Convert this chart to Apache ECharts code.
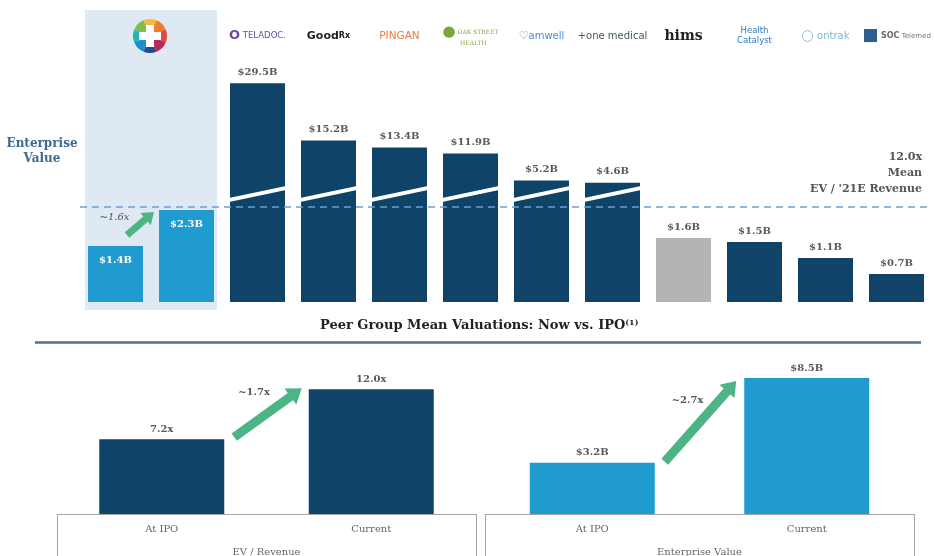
<!DOCTYPE html>
<html>
<head>
<meta charset="utf-8">
<script src="https://cdn.jsdelivr.net/npm/echarts@6/dist/echarts.min.js"></script>
<style>
  html, body { margin: 0; padding: 0; background: #fff; }
  #main { width: 934px; height: 556px; }
</style>
</head>
<body>
<div id="main"></div>
<script>
// ---- data ----
const peerNames = ['Company at IPO', 'Company current', 'Teladoc', 'GoodRx', 'Ping An Good Doctor',
  'Oak Street Health', 'Amwell', 'One Medical', 'Hims & Hers', 'Health Catalyst', 'Ontrak', 'SOC Telemed'];
const peerEv = [1.4, 2.3, 29.5, 15.2, 13.4, 11.9, 5.2, 4.6, 1.6, 1.5, 1.1, 0.7];
const logoText = ['', '',
  '{tdo|O}{td| TELADOC.}',
  '{gr|Good}{grx|Rx}',
  '{pa|PINGAN}',
  '{osi|●}{os| OAK STREET}\n{os|   HEALTH}',
  '{ami|♡}{am|amwell}',
  '{om|+one medical}',
  '{hims|hims}',
  '{hc|Health}\n{hc|Catalyst}',
  '{oti|◯}{ot| ontrak}',
  '{soci|■}{socb| SOC}{soc| Telemed}'];
const meanLineLabel = ['12.0x', 'Mean', "EV / '21E Revenue"];
const meanLineAt = 2.375;           // where the dashed mean line sits on the top chart

const ipoCats = ['At IPO', 'Current'];
const evRevenue = [7.2, 12.0];
const evMean = [3.2, 8.5];
const stepLabels = ['~1.6x', '~1.7x', '~2.7x'];

// ---- styling ----
const NAVY = '#0f4468', BLUE = '#1f9bd0', GREY = '#b4b4b4', GREEN = '#4db585';
const SERIF = "'DejaVu Serif', serif";
const SANS = "'DejaVu Sans', sans-serif";
const TOP_BAR_W = 55, LOW_BAR_W = 125;

// broken axis: full scale up to BREAK, squashed above it
const BREAK = 2.8, SQUASH = 10, SLASH_AT = 2.7;
const disp = v => v <= BREAK ? v : BREAK + (v - BREAK) / SQUASH;
const fmtB = v => '$' + v.toFixed(1) + 'B';

function arrowItem(o) {
  return function (params, api) {
    const p0 = api.coord([api.value(0), api.value(1)]);
    const p1 = api.coord([api.value(2), api.value(3)]);
    const hb = o.barW / 2;
    const t = [p0[0] + hb + o.tail[0], p0[1] + o.tail[1]];
    const h = [p1[0] - hb + o.head[0], p1[1] + o.head[1]];
    const dx = h[0] - t[0], dy = h[1] - t[1], len = Math.hypot(dx, dy);
    const ux = dx / len, uy = dy / len, nx = -uy, ny = ux;
    const b = [h[0] - ux * o.headLen, h[1] - uy * o.headLen];
    const s = o.shaft / 2, w = o.headW / 2;
    const pts = [
      [t[0] + nx * s, t[1] + ny * s], [b[0] + nx * s, b[1] + ny * s], [b[0] + nx * w, b[1] + ny * w], h,
      [b[0] - nx * w, b[1] - ny * w], [b[0] - nx * s, b[1] - ny * s], [t[0] - nx * s, t[1] - ny * s]
    ];
    const m = [(t[0] + h[0]) / 2 + o.text[0], (t[1] + h[1]) / 2 + o.text[1]];
    return {
      type: 'group',
      children: [
        { type: 'polygon', shape: { points: pts }, style: { fill: GREEN } },
        { type: 'text', x: m[0], y: m[1], style: {
          text: o.label, fill: '#555', fontFamily: SERIF, fontSize: 10,
          fontStyle: o.italic ? 'italic' : 'normal', fontWeight: o.italic ? 'normal' : 'bold',
          align: 'center', verticalAlign: 'middle' } }
      ]
    };
  };
}

const chart = echarts.init(document.getElementById('main'));

chart.setOption({
  animation: false,
  title: {
    text: '{t|Peer Group Mean Valuations: Now vs. IPO}{s|(1)}',
    left: 320, top: 319, padding: 0,
    textStyle: {
      rich: {
        t: { fontFamily: SERIF, fontWeight: 'bold', fontSize: 13, color: '#222' },
        s: { fontFamily: SERIF, fontWeight: 'bold', fontSize: 8, color: '#222', verticalAlign: 'top', padding: [0, 0, 6, 0] }
      }
    }
  },
  grid: [
    { left: 80, right: 2, top: 10, bottom: 246, outerBoundsMode: 'none', containLabel: false },
    { left: 57, right: 458, top: 354, bottom: 42, outerBoundsMode: 'none', containLabel: false },
    { left: 485, right: 20, top: 354, bottom: 42, outerBoundsMode: 'none', containLabel: false }
  ],
  xAxis: [
    {
      gridIndex: 0, type: 'category', data: peerNames, position: 'top',
      axisLine: { show: false }, axisTick: { show: false },
      axisLabel: {
        interval: 0, inside: true, margin: 26, verticalAlign: 'middle',
        formatter: (v, i) => logoText[i],
        rich: {
          tdo: { color: '#6b4aa5', fontSize: 13, fontWeight: 'bold', fontFamily: SANS },
          td: { color: '#6b4aa5', fontSize: 8.5, fontFamily: SANS },
          gr: { color: '#222', fontSize: 11, fontWeight: 'bold', fontFamily: SANS },
          grx: { color: '#222', fontSize: 8, fontWeight: 'bold', fontFamily: SANS },
          pa: { color: '#ea7a3f', fontSize: 10.5, fontFamily: SANS },
          osi: { color: '#7aa63a', fontSize: 15, fontFamily: SANS },
          os: { color: '#7aa63a', fontSize: 6, fontFamily: SERIF, lineHeight: 7 },
          ami: { color: '#4a8bd6', fontSize: 11, fontFamily: SANS },
          am: { color: '#4a8bd6', fontSize: 10, fontFamily: SANS },
          om: { color: '#3e5a5c', fontSize: 10, fontFamily: SANS },
          hims: { color: '#222', fontSize: 14, fontWeight: 'bold', fontFamily: SERIF },
          hc: { color: '#2b7bc0', fontSize: 8.5, fontFamily: SANS, lineHeight: 10 },
          oti: { color: '#7fb3d5', fontSize: 11, fontFamily: SANS },
          ot: { color: '#7fb3d5', fontSize: 10, fontFamily: SANS },
          soci: { color: '#2f5d8c', fontSize: 17, fontFamily: SANS },
          socb: { color: '#666', fontSize: 8, fontWeight: 'bold', fontFamily: SANS },
          soc: { color: '#777', fontSize: 7, fontFamily: SANS }
        }
      }
    },
    {
      gridIndex: 1, type: 'category', data: ipoCats,
      axisLine: { lineStyle: { color: '#a5a5a5', width: 1 } },
      axisTick: { show: true, interval: i => i === 0, length: 50, lineStyle: { color: '#a5a5a5' } },
      axisLabel: { margin: 10, color: '#666', fontFamily: SERIF, fontSize: 10 },
      name: 'EV / Revenue', nameLocation: 'middle', nameGap: 33,
      nameTextStyle: { color: '#666', fontFamily: SERIF, fontSize: 10 }
    },
    {
      gridIndex: 2, type: 'category', data: ipoCats,
      axisLine: { lineStyle: { color: '#a5a5a5', width: 1 } },
      axisTick: { show: true, interval: i => i === 0, length: 50, lineStyle: { color: '#a5a5a5' } },
      axisLabel: { margin: 10, color: '#666', fontFamily: SERIF, fontSize: 10 },
      name: 'Enterprise Value', nameLocation: 'middle', nameGap: 33,
      nameTextStyle: { color: '#666', fontFamily: SERIF, fontSize: 10 }
    }
  ],
  yAxis: [
    { gridIndex: 0, type: 'value', min: -0.2, max: 7.3, show: false },
    { gridIndex: 1, type: 'value', min: 0, max: 15.4, show: false },
    { gridIndex: 2, type: 'value', min: 0, max: 10, show: false }
  ],
  graphic: [
    { type: 'rect', z: 100, shape: { x: 146, y: 25, width: 8, height: 22 }, style: { fill: '#fff' } },
    { type: 'rect', z: 100, shape: { x: 139, y: 32, width: 22, height: 8 }, style: { fill: '#fff' } },
    { type: 'text', x: 42, y: 151, style: {
      text: 'Enterprise\nValue', fill: '#3e6990', fontFamily: SERIF, fontWeight: 'bold',
      fontSize: 12, lineHeight: 15, align: 'center', verticalAlign: 'middle' } },
    { type: 'line', shape: { x1: 35, y1: 342.5, x2: 921, y2: 342.5 }, style: { stroke: '#4b7394', lineWidth: 2.5 } }
  ],
  series: [
    // company logo (colour wheel)
    {
      type: 'pie', silent: true, center: [150, 36], radius: [0, 17], startAngle: 112.5,
      label: { show: false }, labelLine: { show: false },
      data: [1, 1, 1, 1, 1, 1, 1, 1].map((v, i) => ({
        value: v,
        itemStyle: { color: ['#f6b93b', '#ef7d2d', '#e2483f', '#b8285a', '#234d8a', '#1c8fd2', '#27b1b8', '#7cc04c'][i] }
      }))
    },
    // highlight panel behind the company's own bars
    {
      type: 'custom', xAxisIndex: 0, yAxisIndex: 0, z: 0, silent: true,
      data: [[0, 1]],
      renderItem(params, api) {
        const a = api.coord([api.value(0), 0]);
        const b = api.coord([api.value(1), 0]);
        const band = api.size([1, 0])[0];
        const cs = params.coordSys;
        return { type: 'rect', shape: { x: a[0] - band * 0.43, y: cs.y, width: b[0] - a[0] + band * 0.86, height: cs.height },
          style: { fill: '#dfe9f4' } };
      }
    },
    {
      type: 'bar', xAxisIndex: 0, yAxisIndex: 0, z: 2, barWidth: TOP_BAR_W,
      data: peerEv.map((v, i) => ({
        value: disp(v),
        itemStyle: { color: i < 2 ? BLUE : (i === 8 ? GREY : NAVY) },
        label: i < 2 ? { position: 'insideTop', color: '#fff', distance: 9 } : undefined
      })),
      label: {
        show: true, position: 'top', distance: 6, color: '#595959',
        fontFamily: SERIF, fontWeight: 'bold', fontSize: 10,
        formatter: p => fmtB(peerEv[p.dataIndex])
      },
      markLine: {
        silent: true, symbol: 'none', z: 5,
        lineStyle: { color: '#6e9fd5', type: [7, 5], width: 1.5 },
        label: {
          position: 'insideEndTop', distance: 10, formatter: meanLineLabel.join('\n'),
          color: '#555', fontFamily: SERIF, fontWeight: 'bold', fontSize: 11, lineHeight: 16, align: 'right'
        },
        data: [{ yAxis: meanLineAt }]
      }
    },
    // white break slashes on the squashed bars
    {
      type: 'custom', xAxisIndex: 0, yAxisIndex: 0, z: 3, silent: true,
      data: peerEv.map((v, i) => [i, disp(v)]).filter(d => d[1] > BREAK),
      renderItem(params, api) {
        const c = api.coord([api.value(0), SLASH_AT]);
        const half = TOP_BAR_W / 2 + 1;
        return { type: 'polygon', shape: { points: [
          [c[0] - half, c[1] + 4], [c[0] + half, c[1] - 8], [c[0] + half, c[1] - 4], [c[0] - half, c[1] + 8]
        ] }, style: { fill: '#fff' } };
      }
    },
    {
      type: 'custom', xAxisIndex: 0, yAxisIndex: 0, z: 4, silent: true,
      data: [[0, disp(peerEv[0]), 1, disp(peerEv[1])]],
      encode: { x: [0, 2], y: [1, 3] },
      renderItem: arrowItem({ barW: TOP_BAR_W, tail: [-16, -11], head: [-5, 2], shaft: 7, headW: 16, headLen: 11,
        text: [-26, -6], label: stepLabels[0], italic: true })
    },
    // bottom left: EV / Revenue
    {
      type: 'bar', xAxisIndex: 1, yAxisIndex: 1, barWidth: LOW_BAR_W, data: evRevenue,
      itemStyle: { color: NAVY },
      label: { show: true, position: 'top', distance: 5, color: '#595959', fontFamily: SERIF, fontWeight: 'bold', fontSize: 10,
        formatter: p => p.value.toFixed(1) + 'x' }
    },
    {
      type: 'custom', xAxisIndex: 1, yAxisIndex: 1, z: 4, silent: true,
      data: [[0, evRevenue[0], 1, evRevenue[1]]],
      encode: { x: [0, 2], y: [1, 3] },
      renderItem: arrowItem({ barW: LOW_BAR_W, tail: [10, -2], head: [-7, -1], shaft: 9, headW: 20, headLen: 14,
        text: [-14, -20], label: stepLabels[1] })
    },
    // bottom right: Enterprise Value
    {
      type: 'bar', xAxisIndex: 2, yAxisIndex: 2, barWidth: LOW_BAR_W, data: evMean,
      itemStyle: { color: BLUE },
      label: { show: true, position: 'top', distance: 5, color: '#595959', fontFamily: SERIF, fontWeight: 'bold', fontSize: 10,
        formatter: p => fmtB(p.value) }
    },
    {
      type: 'custom', xAxisIndex: 2, yAxisIndex: 2, z: 4, silent: true,
      data: [[0, evMean[0], 1, evMean[1]]],
      encode: { x: [0, 2], y: [1, 3] },
      renderItem: arrowItem({ barW: LOW_BAR_W, tail: [10, -1], head: [-8, 3], shaft: 9, headW: 20, headLen: 14,
        text: [-13, -21], label: stepLabels[2] })
    }
  ]
});
</script>
</body>
</html>
